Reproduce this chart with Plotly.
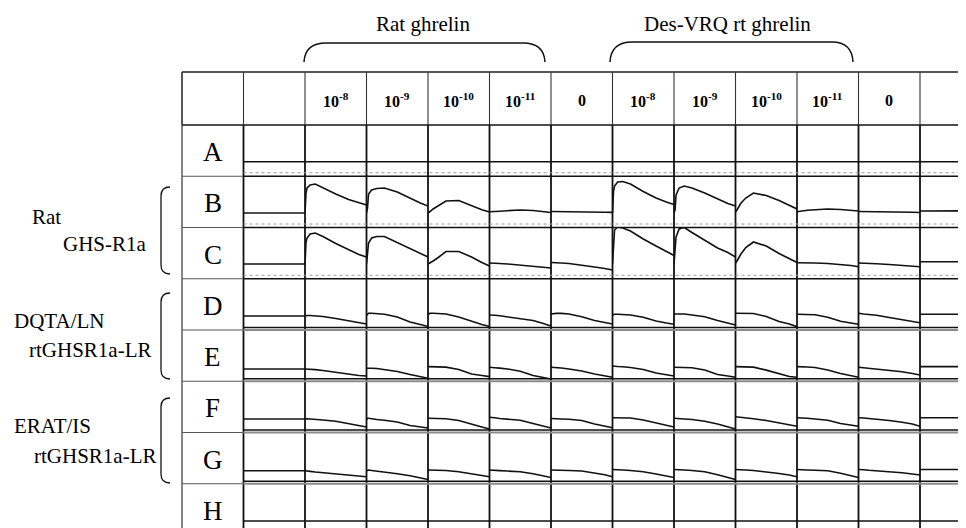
import plotly.graph_objects as go

# ---------------- data ----------------
dose_labels = ["10<sup>-8</sup>", "10<sup>-9</sup>", "10<sup>-10</sup>", "10<sup>-11</sup>"]
column_labels = [""] + dose_labels + ["0"] + dose_labels + ["0", ""]
row_letters = ["A", "B", "C", "D", "E", "F", "G", "H"]
ligand_names = ["Rat ghrelin", "Des-VRQ rt ghrelin"]
receptor_names = [("Rat", "GHS-R1a"), ("DQTA/LN", "rtGHSR1a-LR"), ("ERAT/IS", "rtGHSR1a-LR")]

# sampling times within one well recording (s)
time_s = [0, 2, 4, 10, 20, 35, 60, 85, 105, 120]

# relative fluorescence (arbitrary units above each row's baseline)
FLAT = [0, 0, 0, 0, 0, 0, 0, 0, 0, 0]

row_A = [FLAT, FLAT, FLAT, FLAT, FLAT, FLAT, FLAT, FLAT, FLAT, FLAT, FLAT, FLAT]

row_B = [
    [0, 0, 0, 0, 0, 0, 0, 0, 0, 0],
    [0, 20, 25, 28, 29, 25, 19, 13.5, 10.5, 8],
    [0, 5, 19, 23, 24.5, 25, 21, 14.5, 10, 7],
    [0, 0.5, 1.5, 4, 7, 12, 12.5, 7, 3.2, 1],
    [1.3, 1.3, 1.3, 1.5, 1.8, 2.3, 3, 2.5, 1.5, 0.5],
    [1.5, 1.5, 1.5, 1.5, 1.5, 1.4, 1.2, 1, 0.8, 0.6],
    [0, 22, 27, 31, 31.5, 29, 21.5, 15, 11, 8.5],
    [0, 3, 18, 25, 27, 25, 20, 14.3, 9.5, 7],
    [1, 2, 4, 9.5, 15, 20, 17.5, 12.5, 7.5, 4],
    [1.3, 1.3, 1.5, 2, 2.8, 3.5, 4, 3.5, 2.5, 2],
    [1.5, 1.5, 1.5, 1.5, 1.4, 1.3, 1.2, 1, 0.8, 0.5],
    [2, 2, 2, 2, 2.2, 2.4, 2.5, 2.5, 2.3, 2.2],
]

row_C = [
    [0, 0, 0, 0, 0, 0, 0, 0, 0, 0],
    [0, 22, 26, 30, 31, 27.5, 20.5, 14.3, 9.5, 7],
    [0, 8, 21, 26, 27.5, 27.5, 21.7, 15.5, 10.5, 7],
    [0, 0.5, 1, 3, 6.5, 12.5, 12.5, 7, 1.5, -2],
    [1, 1, 1, 0.8, 0.5, 0, -1, -2, -3, -4],
    [1.5, 1.5, 1.4, 1.2, 1, 0.5, -1, -3, -4.5, -6],
    [0, 26, 34, 37, 36, 33, 25, 18, 12.5, 8.5],
    [0, 15, 27, 35, 36.5, 31.5, 23.5, 16, 11.5, 7],
    [0.7, 2, 4, 9.5, 16.5, 22, 18, 10.5, 5, 1.5],
    [1.3, 1.3, 1.3, 1.3, 1.2, 1, 0.5, -0.5, -1.5, -2.7],
    [1, 1, 1, 0.9, 0.7, 0.3, -0.5, -1.3, -2, -2.7],
    [2.3, 2.3, 2.3, 2.3, 2.3, 2.3, 2.3, 2.3, 2.3, 2.3],
]

row_D = [
    [0, 0, 0, 0, 0, 0, 0, 0, 0, 0],
    [0, 0.3, 0.5, 0.5, 0.3, -0.5, -2.5, -5, -6.5, -8],
    [0.5, 2, 2.7, 2.7, 2.5, 1.8, -1, -6, -8.5, -10.5],
    [1.5, 2.5, 2.7, 2.8, 2.7, 2, -1, -5.5, -8.5, -10.5],
    [1, 1, 1, 0.8, 0.2, -1, -2.5, -4.5, -7.5, -10],
    [2, 2.2, 2.5, 2.6, 2.6, 2, -0.7, -4.5, -6.5, -8],
    [1, 1.5, 1.7, 1.7, 1.7, 1, -1.3, -5, -7, -8.3],
    [1.7, 2, 2, 2, 2, 1, -0.7, -4.5, -7, -9],
    [2.7, 2.7, 2.7, 2.7, 2.7, 2.5, -0.5, -5.5, -8, -10.7],
    [1.7, 1.7, 1.7, 1.7, 1.6, 1.2, -1.2, -5.2, -7, -8.3],
    [2.7, 2.5, 2.3, 2, 1.5, 0.8, -1.5, -3.5, -5, -6.7],
    [1.7, 1.7, 1.7, 1.7, 1.7, 1.7, 1.7, 1.7, 1.7, 1.7],
]

row_E = [
    [0, 0, 0, 0, 0, 0, 0, 0, 0, 0],
    [0, 0, 0, -0.2, -0.7, -1.5, -3.3, -5.5, -6.5, -7],
    [0.7, 0.8, 0.8, 0.7, 0.5, -0.5, -2.5, -5.5, -7.5, -9.3],
    [2.3, 2.3, 2.3, 2.3, 2.3, 1.8, -0.5, -5, -6.5, -7.7],
    [1.7, 1.5, 1.4, 1.2, 0.8, 0, -2.3, -6.5, -8.5, -10],
    [1.7, 1.7, 1.6, 1.4, 1, 0, -2, -5, -6.8, -8.3],
    [3, 3, 2.8, 2.5, 2.2, 1.5, -0.5, -4, -5.8, -7],
    [1.7, 1.7, 1.7, 1.7, 1.6, 1.2, -1, -5.5, -7, -8.3],
    [2.3, 2.3, 2.3, 2.3, 2.2, 1.8, -1.2, -5, -7.5, -8.3],
    [2.3, 2.3, 2.3, 2.2, 2, 1.5, -1, -4.5, -6.5, -8.3],
    [1.7, 1.6, 1.5, 1.2, 0.7, 0, -1, -2.8, -4.5, -6],
    [2.3, 2.3, 2.3, 2.3, 2.3, 2.3, 2.3, 2.3, 2.3, 2.3],
]

row_F = [
    [0, 0, 0, 0, 0, 0, 0, 0, 0, 0],
    [0, 0.5, 0.3, 0, -0.3, -1, -2.3, -4.5, -6.5, -8],
    [-0.7, 0.7, 0.7, 0, -0.5, -1.2, -3, -6.5, -8, -9],
    [0.7, 0.7, 0.7, 0.7, 0.7, 0.2, -1.5, -5.5, -8, -10],
    [1.7, 1.7, 1.5, 1.2, 0.5, 0, -1.3, -4.5, -7, -9],
    [0.5, 0.5, 0.5, 0.3, 0, -0.3, -1.5, -5, -7, -8.7],
    [1.3, 1.3, 1.3, 1.3, 1.3, 1, -1, -4, -6, -8],
    [0.7, 0.7, 0.5, 0.2, 0, -0.5, -2.3, -5, -7.5, -10],
    [2.3, 2.2, 2, 1.6, 1, 0.3, -1.5, -4, -5.8, -7.3],
    [1.3, 1.3, 1.2, 1, 0.7, 0, -1.3, -4.5, -6, -7.3],
    [1.3, 1.3, 1.2, 1, 0.5, 0, -1.5, -3.3, -5, -7.3],
    [1.3, 1.3, 1.3, 1.3, 1.3, 1.3, 1.3, 1.3, 1.3, 1.3],
]

row_G = [
    [0, 0, 0, 0, 0, 0, 0, 0, 0, 0],
    [0, 0, -0.2, -0.6, -1.2, -2, -3.3, -4.5, -5, -6],
    [0, 0.7, 0.7, 0.3, -0.3, -1.5, -3, -5, -7, -8.7],
    [0.7, 0.7, 0.7, 0.7, 0.7, 0.3, -1, -3, -4.5, -6],
    [0.7, 0.7, 0.6, 0.4, 0.1, -0.3, -1, -3, -5, -6.7],
    [0.7, 0.7, 0.7, 0.7, 0.6, 0.3, -0.3, -2, -4, -6],
    [1.3, 1.3, 1.2, 1, 0.8, 0.3, -1, -3.2, -5, -6.7],
    [1.3, 1.3, 1.2, 1, 0.7, 0.3, -1, -4, -6.5, -8.7],
    [1.3, 1.3, 1.2, 1, 0.7, 0.3, -1, -2.7, -4.3, -6],
    [1.3, 1.3, 1.2, 1, 0.8, 0.5, 0, -2.5, -4.5, -6.7],
    [1.3, 1.3, 1.2, 1, 0.5, 0, -0.7, -2, -3.2, -4.3],
    [1.3, 1.3, 1.3, 1.3, 1.3, 1.3, 1.3, 1.3, 1.3, 1.3],
]

row_H = [FLAT, FLAT, FLAT, FLAT, FLAT, FLAT, FLAT, FLAT, FLAT, FLAT, FLAT, FLAT]

plate = [row_A, row_B, row_C, row_D, row_E, row_F, row_G, row_H]

# ---------------- layout geometry ----------------
VIEW_W, VIEW_H = 966, 528
PAGE_OFF = 8                      # default body margin of the html page
FIG_W, FIG_H = VIEW_W - PAGE_OFF, VIEW_H - PAGE_OFF
TABLE_L = 182.0
COL_W = 61.5
DATA_L = TABLE_L + COL_W
HEAD_T, HEAD_B = 72.0, 125.0
ROW_H = 51.25
T_END = time_s[-1]
BASE_PX = [14.5, 14.5, 14.75, 14.0, 12.3, 13.5, 13.0, 14.0]
FONT = "Liberation Serif, Times New Roman, serif"

n_cols = len(column_labels)
n_rows = len(row_letters)


def X(px):
    return (px - PAGE_OFF) / FIG_W


def Y(py):
    return 1 - (py - PAGE_OFF) / FIG_H


fig = go.Figure()
axes = {}
for c in range(n_cols):
    left = DATA_L + c * COL_W
    vis_right = min(left + COL_W, VIEW_W)
    name = "xaxis" if c == 0 else f"xaxis{c + 1}"
    axes[name] = dict(domain=[X(left), min(1.0, X(vis_right))],
                      range=[0, T_END * (vis_right - left) / COL_W],
                      visible=False, fixedrange=True, anchor="y")
for r in range(n_rows):
    top = HEAD_B + r * ROW_H
    bot = top + ROW_H
    vis_bot = min(bot, VIEW_H)
    base = BASE_PX[r]
    name = "yaxis" if r == 0 else f"yaxis{r + 1}"
    axes[name] = dict(domain=[max(0.0, Y(vis_bot)), Y(top)],
                      range=[-base + (bot - vis_bot), ROW_H - base],
                      visible=False, fixedrange=True, anchor="x")

for r, row in enumerate(plate):
    for c, vals in enumerate(row):
        fig.add_trace(go.Scatter(
            x=time_s, y=vals, mode="lines",
            line=dict(color="#111111", width=1.6),
            xaxis="x" if c == 0 else f"x{c + 1}",
            yaxis="y" if r == 0 else f"y{r + 1}",
            showlegend=False, hoverinfo="skip"))

shapes = []


def line(x0, y0, x1, y1, color="#111111", width=1.5, dash=None):
    shapes.append(dict(type="line", xref="paper", yref="paper",
                       x0=X(x0), y0=Y(y0), x1=X(x1), y1=Y(y1),
                       line=dict(color=color, width=width, dash=dash),
                       layer="above"))


def path(points_cmds, width=1.5):
    s = ""
    for cmd, pts in points_cmds:
        s += cmd + " " + " ".join(f"{X(px):.5f},{Y(py):.5f}" for px, py in pts) + " "
    shapes.append(dict(type="path", xref="paper", yref="paper", path=s.strip(),
                       line=dict(color="#111111", width=width), layer="above"))


# header box
line(TABLE_L, HEAD_T, VIEW_W, HEAD_T, "#222", 1.3)
line(TABLE_L, HEAD_B, VIEW_W, HEAD_B, "#111", 1.5)
for k in range(n_cols + 1):
    xk = TABLE_L + k * COL_W
    if xk <= VIEW_W:
        line(xk, HEAD_T, xk, HEAD_B, "#333", 1.1)
# label column
line(TABLE_L, HEAD_T, TABLE_L, VIEW_H, "#333", 1.2)
line(DATA_L, HEAD_B, DATA_L, VIEW_H, "#111", 1.8)
for r in range(1, n_rows):
    yb = HEAD_B + r * ROW_H
    line(TABLE_L, yb, DATA_L, yb, "#555", 1.1)
# data grid
for k in range(1, n_cols):
    xk = DATA_L + k * COL_W
    line(xk, HEAD_B, xk, VIEW_H, "#111", 1.8)
for r in range(n_rows):
    yb = HEAD_B + (r + 1) * ROW_H
    if 3 <= r <= 6:
        line(DATA_L, yb - 2.5, VIEW_W, yb - 2.5, "#111", 1.5)
        line(DATA_L, yb, VIEW_W, yb, "#8c8c8c", 1.8)
    else:
        line(DATA_L, yb, VIEW_W, yb, "#111", 1.5)
        line(DATA_L, yb - 3.5, VIEW_W, yb - 3.5, "#9a9a9a", 1, "dot")

# header braces
path([("M", [(304, 62)]), ("Q", [(305, 43), (326, 43)]), ("L", [(523, 43)]),
      ("Q", [(544, 43), (545, 62)])])
path([("M", [(610, 62)]), ("Q", [(611, 42), (632, 42)]), ("L", [(832, 42)]),
      ("Q", [(852, 42), (853, 62)])])
# left brackets
for top, bot in [(187, 274), (293, 379), (398, 483)]:
    path([("M", [(170, top)]), ("Q", [(161, top), (161, top + 9)]),
          ("L", [(161, bot - 9)]), ("Q", [(161, bot), (170, bot)])], width=1.3)

annotations = []


def text(x, y, s, size, xanchor="center"):
    annotations.append(dict(xref="paper", yref="paper", x=X(x), y=Y(y), text=s,
                            showarrow=False, xanchor=xanchor, yanchor="middle",
                            font=dict(family=FONT, size=size, color="black")))


text(423, 24, ligand_names[0], 21)
text(727, 24, ligand_names[1], 21)

for c, lab in enumerate(column_labels):
    if lab:
        text(DATA_L + (c + 0.5) * COL_W, 100, f"<b>{lab}</b>", 16)

for r, letter in enumerate(row_letters):
    text(TABLE_L + COL_W / 2, HEAD_B + (r + 0.5) * ROW_H + 1.5, letter, 27)

label_pos = [((30, 217), (61, 244)), ((12, 321), (27, 350)), ((12, 426), (32, 456))]
for (l1, l2), ((x1, y1), (x2, y2)) in zip(receptor_names, label_pos):
    text(x1, y1, l1, 21, "left")
    text(x2, y2, l2, 21, "left")

fig.update_layout(width=FIG_W, height=FIG_H, autosize=False,
                  margin=dict(l=0, r=0, t=0, b=0, pad=0),
                  paper_bgcolor="white", plot_bgcolor="white",
                  shapes=shapes, annotations=annotations, **axes)

fig.write_html("out.html")
